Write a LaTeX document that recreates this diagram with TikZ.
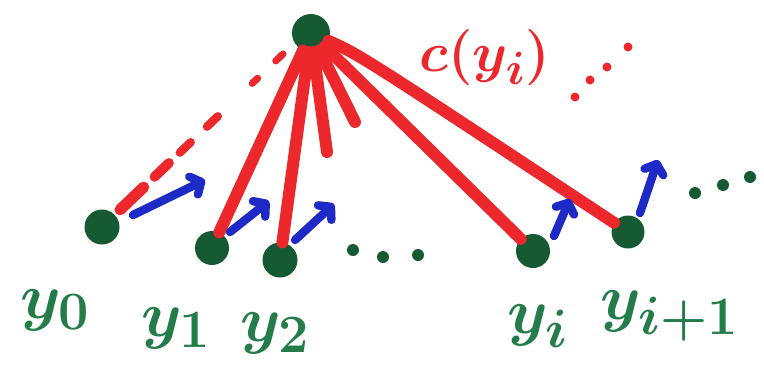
\documentclass[tikz,border=0pt]{standalone}
\usepackage{xcolor}
\usepackage{tikz}
\usetikzlibrary{calc,arrows.meta,positioning}
\definecolor{inkRed}{RGB}{236,40,44}
\definecolor{inkBlue}{RGB}{30,42,198}
\definecolor{inkDot}{RGB}{22,90,52}
\definecolor{inkText}{RGB}{36,124,74}
\tikzset{
  blob/.style={circle, fill=inkDot, inner sep=0pt, minimum size=#1},
  edge/.style={inkRed, line width=8.5pt, line cap=round},
  move/.style={inkBlue, line width=6pt, line cap=round, line join=round,
    -{Straight Barb[length=6pt,width=14pt,line cap=round,line join=round]}},
  ylabel/.style={inkText, font=\Huge\boldmath, scale=1.85},
}

\begin{document}
\begin{tikzpicture}[x=0.025cm, y=-0.025cm]
        \useasboundingbox (0,0) rectangle (764,382);
        % Points y_k and the top point
        \node[blob=38*0.025cm] (c) at (311,33) {};
        \node[blob=35*0.025cm] (y0) at (102,227) {};
        \node[blob=34*0.025cm] (y1) at (212,248) {};
        \node[blob=35*0.025cm] (y2) at (280,260) {};
        \node[blob=34*0.025cm] (yi) at (533,251) {};
        \node[blob=33*0.025cm] (yn) at (628,232) {};
        % Red edges to the top point
        \coordinate (s1) at (327,152);
        \coordinate (s2) at (355,122);
        \draw[edge] (c) -- (y1);
        \draw[edge] (c) -- (y2);
        \draw[edge] (c) -- (s1);
        \draw[edge] (c) -- (s2);
        \draw[edge] (c) -- (yi);
        \draw[edge] (c) .. controls (360,55) .. (yn);
        % Dashed edge from y_0
        \coordinate (d0) at (283,54);
        \foreach \a/\b/\w in {0.10/0.23/8pt, 0.29/0.37/7pt, 0.43/0.49/6pt,
                               0.58/0.64/6pt, 0.83/0.86/5pt, 0.96/1.0/5pt}
          \draw[inkRed, line width=\w, line cap=round]
            ($(y0)!\a!(d0)$) -- ($(y0)!\b!(d0)$);
        \node[inkRed, font=\Huge\boldmath, scale=1.6] (cy) at (485,58) {$c(y_i)$};
        % Red dots
        \foreach \p in {(575,97),(590,80),(607,67),(628,47)}
          \fill[inkRed] \p circle (4.5);
        % Blue moves
        \coordinate (a0s) at (133,215); \coordinate (a0e) at (205,180);
        \coordinate (a1s) at (230,232); \coordinate (a1e) at (269,201);
        \coordinate (a2s) at (295,240); \coordinate (a2e) at (334,204);
        \coordinate (ais) at (554,236); \coordinate (aie) at (570,199);
        \coordinate (ans) at (640,213); \coordinate (ane) at (658,160);
        \draw[move] (a0s) -- (a0e);
        \draw[move] (a1s) -- (a1e);
        \draw[move] (a2s) -- (a2e);
        \draw[move] (ais) -- (aie);
        \draw[move] (ans) -- (ane);
        % Green dots
        \foreach \p in {(353,250),(383,257),(418,255),(695,193),(723,185),(750,177)}
          \fill[inkDot] \p circle (6);
        % Labels
        \node[ylabel] (l0) at (55,310) {$y_0$};
        \node[ylabel] (l1) at (176,328) {$y_1$};
        \node[ylabel] (l2) at (275,333) {$y_2$};
        \node[ylabel] (li) at (538,326) {$y_i$};
        \node[ylabel] (ln) at (670,316) {$y_{i+1}$};
\end{tikzpicture}
\end{document}
